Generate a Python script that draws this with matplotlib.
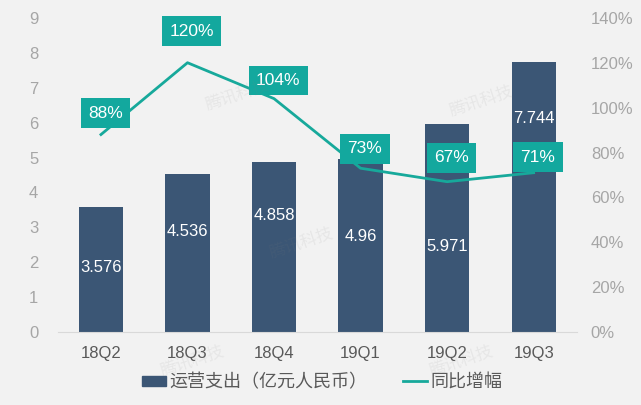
import matplotlib

matplotlib.use("Agg")
import matplotlib.pyplot as plt
from matplotlib.patches import Patch
from matplotlib.lines import Line2D

# data
quarters = ["18Q2", "18Q3", "18Q4", "19Q1", "19Q2", "19Q3"]
spend = [3.576, 4.536, 4.858, 4.96, 5.971, 7.744]
growth = [88, 120, 104, 73, 67, 71]
spend_labels = ["3.576", "4.536", "4.858", "4.96", "5.971", "7.744"]

# label placement (axis units)
spend_label_y = [1.86, 2.87, 3.35, 2.75, 2.46, 6.13]
growth_label_y = [97.6, 134, 112, 81.6, 77.6, 78]

BG = "#F2F2F2"
BAR = "#3B5675"
LINE = "#17A99B"
BOX = "#13A89E"
GREY = "#A6A6A6"

plt.rcParams["font.family"] = ["Liberation Sans", "Noto Sans CJK SC", "DejaVu Sans"]

fig = plt.figure(figsize=(6.41, 4.05), dpi=100, facecolor=BG)
ax = fig.add_axes([0.090, 0.180, 0.810, 0.776], facecolor=BG)
ax2 = ax.twinx()

x = list(range(len(quarters)))
ax.bar(x, spend, width=0.51, color=BAR, zorder=2)
ax.set_xlim(-0.5, len(quarters) - 0.5)
ax.set_ylim(0, 9)
ax.set_yticks(range(0, 10))
ax.set_xticks(x)
ax.set_xticklabels(quarters, fontsize=12, color="#595959")
ax.tick_params(axis="y", length=0, labelsize=12, labelcolor=GREY, pad=14)
ax.tick_params(axis="x", length=0, pad=10)

for xi, lab, ly in zip(x, spend_labels, spend_label_y):
    ax.text(xi, ly, lab, ha="center", va="center", color="white", fontsize=12, zorder=5)

ax2.plot(x, growth, color=LINE, linewidth=2, zorder=3)
ax2.set_ylim(0, 140)
ax2.set_yticks(range(0, 141, 20))
ax2.set_yticklabels([f"{v}%" for v in range(0, 141, 20)])
ax2.tick_params(axis="y", length=0, labelsize=12, labelcolor=GREY, pad=10)

for xi, g, ly in zip(x, growth, growth_label_y):
    ax2.text(xi + 0.05, ly, f"{g}%", ha="center", va="center", color="white", fontsize=12.5,
             zorder=6, bbox=dict(boxstyle="square,pad=0.42", fc=BOX, ec="none"))

for a in (ax, ax2):
    for s in a.spines.values():
        s.set_visible(False)
ax.spines["bottom"].set_visible(True)
ax.spines["bottom"].set_color("#D9D9D9")

# faint watermarks
for wx, wy in [(0.37, 0.765), (0.75, 0.75), (0.47, 0.40), (0.30, 0.11), (0.72, 0.11)]:
    fig.text(wx, wy, "腾讯科技", color="#808080", alpha=0.1, fontsize=12, rotation=18,
             ha="center", va="center", zorder=0)

handles = [Patch(color=BAR), Line2D([0], [0], color=LINE, linewidth=2)]
fig.legend(handles, ["运营支出（亿元人民币）", "同比增幅"], loc="center", bbox_to_anchor=(0.503, 0.055),
           ncol=2, frameon=False, fontsize=13, handlelength=1.3, handleheight=0.55,
           columnspacing=2.0, handletextpad=0.2, labelcolor="#595959")

fig.savefig("out.png", dpi=100, facecolor=BG)
